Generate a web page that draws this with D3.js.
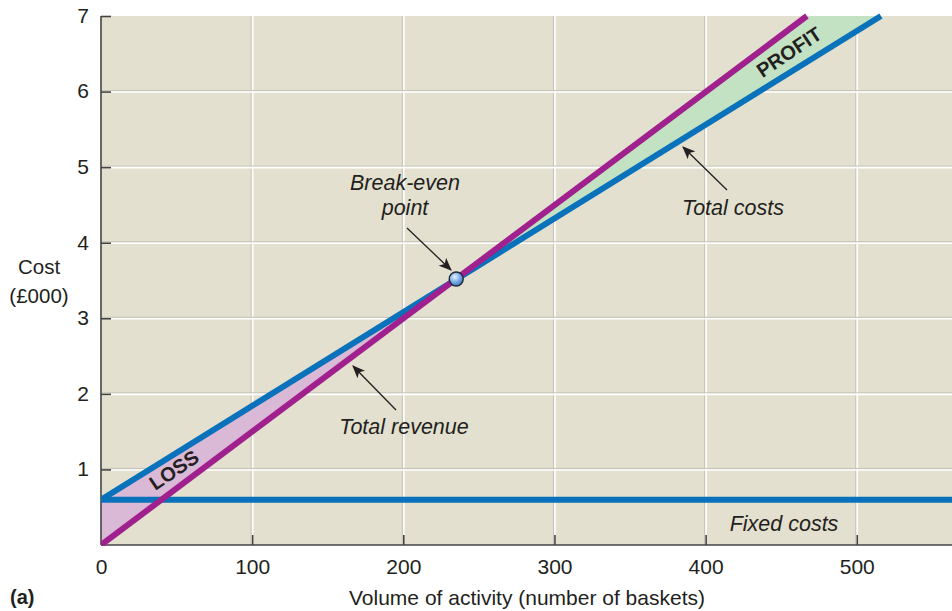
<!DOCTYPE html>
<html>
<head>
<meta charset="utf-8">
<script src="https://cdn.jsdelivr.net/npm/d3@7"></script>
<style>
  html, body { margin: 0; padding: 0; background: #ffffff; }
  svg { display: block; }
  text { font-family: "Liberation Sans", Arial, Helvetica, sans-serif; fill: #231f20; }
</style>
</head>
<body>
<svg id="chart" width="952" height="611"></svg>
<script>
// Break-even chart data (cost in £000, volume in baskets)
const xTicks = [0, 100, 200, 300, 400, 500];
const yTicks = [1, 2, 3, 4, 5, 6, 7];

const revenueVolume = [0, 467];
const revenueValue = [0, 7];

const totalCostVolume = [0, 516];
const totalCostValue = [0.6, 7];

const fixedCostVolume = [0, 563];
const fixedCostValue = [0.6, 0.6];

const breakEven = [235, 3.52];

const svg = d3.select("#chart");
const plot = { left: 101, right: 952, top: 16, bottom: 545 };

const x = d3.scaleLinear().domain([0, 563]).range([plot.left, plot.right]);
const y = d3.scaleLinear().domain([0, 7]).range([plot.bottom, plot.top]);

const blue = "#0a72bb";
const purple = "#a0218e";

// Plot background
svg.append("rect")
  .attr("x", plot.left).attr("y", plot.top)
  .attr("width", plot.right - plot.left).attr("height", plot.bottom - plot.top)
  .attr("fill", "#e3e0cf");

// Grid: light grey edge with a white line beside it
const grid = svg.append("g");
xTicks.filter(d => d > 0).forEach(d => {
  grid.append("line").attr("x1", x(d) - 1).attr("x2", x(d) - 1)
    .attr("y1", plot.top).attr("y2", plot.bottom)
    .attr("stroke", "#c4c2b8").attr("stroke-width", 1);
  grid.append("line").attr("x1", x(d) + 0.5).attr("x2", x(d) + 0.5)
    .attr("y1", plot.top).attr("y2", plot.bottom)
    .attr("stroke", "#ffffff").attr("stroke-width", 1.6);
});
yTicks.filter(d => d < 7).forEach(d => {
  grid.append("line").attr("x1", plot.left).attr("x2", plot.right)
    .attr("y1", y(d) - 1).attr("y2", y(d) - 1)
    .attr("stroke", "#c4c2b8").attr("stroke-width", 1);
  grid.append("line").attr("x1", plot.left).attr("x2", plot.right)
    .attr("y1", y(d) + 0.5).attr("y2", y(d) + 0.5)
    .attr("stroke", "#ffffff").attr("stroke-width", 1.6);
});

// Loss and profit areas between revenue and total costs
const poly = d3.line().x(d => x(d[0])).y(d => y(d[1]));
const lossArea = [
  [totalCostVolume[0], totalCostValue[0]],
  breakEven,
  [revenueVolume[0], revenueValue[0]]
];
const profitArea = [
  breakEven,
  [revenueVolume[1], revenueValue[1]],
  [totalCostVolume[1], totalCostValue[1]]
];
svg.append("path").attr("d", poly(lossArea) + "Z").attr("fill", "#d9b9d6");
svg.append("path").attr("d", poly(profitArea) + "Z").attr("fill", "#c3e2c3");

// Axes
const xAxis = d3.axisBottom(x).tickValues(xTicks).tickSize(-10).tickPadding(16).tickFormat(d3.format("d"));
const yAxis = d3.axisLeft(y).tickValues(yTicks).tickSize(-10).tickPadding(16).tickFormat(d3.format("d"));

const gx = svg.append("g").attr("transform", `translate(0,${plot.bottom})`).call(xAxis);
const gy = svg.append("g").attr("transform", `translate(${plot.left},0)`).call(yAxis);
[gx, gy].forEach(g => {
  g.select(".domain").attr("stroke", "#444").attr("stroke-width", 1.6);
  g.selectAll(".tick line").attr("stroke", "#444").attr("stroke-width", 1.6);
  g.selectAll(".tick text").attr("font-size", 21).attr("fill", "#231f20")
    .attr("font-family", "'Liberation Sans', Arial, sans-serif");
});
gx.select(".domain").attr("d", `M${plot.left},0H${plot.right}`);
gy.select(".domain").attr("d", `M0,${plot.bottom}V${plot.top}`);
gx.selectAll(".tick text").attr("dy", "0.62em");
gx.selectAll(".tick").filter(d => d === 0).select("line").remove();
gy.selectAll(".tick text").attr("dx", "4").attr("dy", "0.3em");

// Lines, clipped at the vertical axis
svg.append("clipPath").attr("id", "clip")
  .append("rect").attr("x", plot.left).attr("y", 0)
  .attr("width", plot.right - plot.left).attr("height", plot.bottom + 1);

const lines = svg.append("g").attr("clip-path", "url(#clip)");
const pairLine = (vx, vy) => poly(vx.map((v, i) => [v, vy[i]]));

lines.append("path").attr("d", pairLine(fixedCostVolume, fixedCostValue))
  .attr("stroke", blue).attr("stroke-width", 6).attr("fill", "none");
lines.append("path").attr("d", pairLine(totalCostVolume, totalCostValue))
  .attr("stroke", blue).attr("stroke-width", 6).attr("fill", "none");
lines.append("path").attr("d", pairLine(revenueVolume, revenueValue))
  .attr("stroke", purple).attr("stroke-width", 6).attr("fill", "none");

// Break-even marker
const defs = svg.append("defs");
const grad = defs.append("radialGradient").attr("id", "ball")
  .attr("cx", "40%").attr("cy", "35%").attr("r", "65%");
grad.append("stop").attr("offset", "0%").attr("stop-color", "#e6f2ff");
grad.append("stop").attr("offset", "55%").attr("stop-color", "#7fb0e6");
grad.append("stop").attr("offset", "100%").attr("stop-color", "#3f79c4");

svg.append("circle")
  .attr("cx", x(breakEven[0])).attr("cy", y(breakEven[1])).attr("r", 7)
  .attr("fill", "url(#ball)").attr("stroke", "#1d2a3a").attr("stroke-width", 1.4);

// Arrow annotations
defs.append("marker").attr("id", "arrow")
  .attr("viewBox", "0 0 12 10").attr("refX", 11).attr("refY", 5)
  .attr("markerWidth", 13).attr("markerHeight", 11)
  .attr("markerUnits", "userSpaceOnUse").attr("orient", "auto")
  .append("path").attr("d", "M0,0 L12,5 L0,10 L3,5 Z").attr("fill", "#231f20");

function arrow(x1, y1, x2, y2) {
  svg.append("line").attr("x1", x1).attr("y1", y1).attr("x2", x2).attr("y2", y2)
    .attr("stroke", "#231f20").attr("stroke-width", 1.3)
    .attr("marker-end", "url(#arrow)");
}
arrow(407, 228, 451, 270);
arrow(727, 190, 683, 147);
arrow(396, 410, 353, 366);

function note(tx, ty, lines) {
  const t = svg.append("text").attr("x", tx).attr("y", ty)
    .attr("text-anchor", "middle").attr("font-size", 21.5).attr("font-style", "italic");
  lines.forEach((s, i) => t.append("tspan").attr("x", tx).attr("dy", i === 0 ? 0 : 25).text(s));
}
note(405, 190, ["Break-even", "point"]);
note(733, 215, ["Total costs"]);
note(404, 434, ["Total revenue"]);
note(784, 531, ["Fixed costs"]);

// Region labels along the lines
svg.append("text").attr("transform", "translate(789,52) rotate(-34)")
  .attr("text-anchor", "middle").attr("dominant-baseline", "central")
  .attr("font-size", 20).attr("font-weight", "bold").text("PROFIT");
svg.append("text").attr("transform", "translate(174,470) rotate(-34)")
  .attr("text-anchor", "middle").attr("dominant-baseline", "central")
  .attr("font-size", 20).attr("font-weight", "bold").text("LOSS");

// Axis titles
const yt = svg.append("text").attr("text-anchor", "middle").attr("font-size", 20.5);
yt.append("tspan").attr("x", 39).attr("y", 274).text("Cost");
yt.append("tspan").attr("x", 39).attr("y", 303).text("(£000)");

svg.append("text").attr("x", 527).attr("y", 605).attr("text-anchor", "middle")
  .attr("font-size", 21).text("Volume of activity (number of baskets)");
svg.append("text").attr("x", 10).attr("y", 604).attr("font-size", 20)
  .attr("font-weight", "bold").text("(a)");
</script>
</body>
</html>
